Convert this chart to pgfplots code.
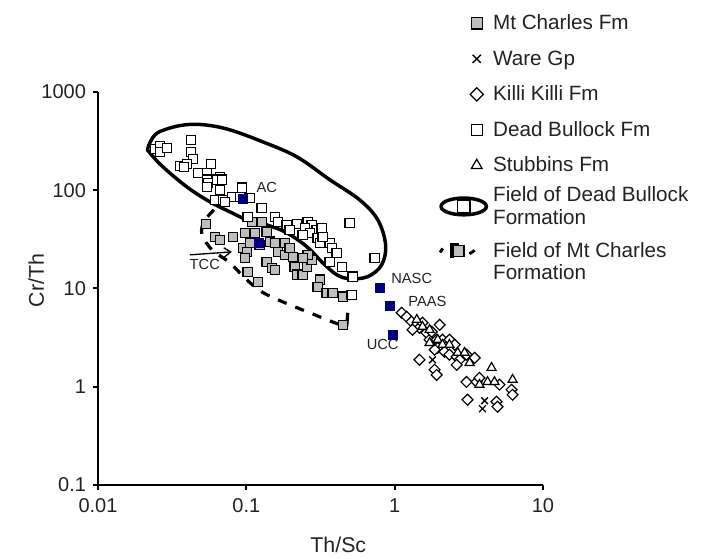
\documentclass[border=0pt]{standalone}
\usepackage{fontspec}
\setmainfont{Liberation Sans}
\usepackage{pgfplots}
\pgfplotsset{compat=1.18}
\usetikzlibrary{arrows.meta}
\definecolor{mcgrey}{HTML}{BEBEBE}
\definecolor{refblue}{HTML}{000080}
\definecolor{txt}{HTML}{222222}
\pgfplotsset{
  legmark/.style={legend image code/.code={%
    \path (0pt,-13.125pt) (37.5pt,13.125pt);
    \draw[mark repeat=2,mark phase=2,##1,every mark/.append style={scale=1.2}] plot coordinates {(19pt,0pt)(28.5pt,0pt)(38pt,0pt)};}},
}
\newcommand{\twoline}[2]{\smash{\raisebox{-6pt}{\begin{tabular}[c]{@{}l@{}}#1\\#2\end{tabular}}}}
\begin{document}
\begin{tikzpicture}
\begin{axis}[
  scale only axis, width=333.75pt, height=294.75pt,
  xmode=log, ymode=log,
  xmin=0.01, xmax=10, ymin=0.1, ymax=1000,
  axis lines*=left,
  axis line style={line width=2.2pt},
  xtick={0.01,0.1,1,10}, xticklabels={0.01,0.1,1,10},
  ytick={0.1,1,10,100,1000}, yticklabels={0.1,1,10,100,1000},
  xminorticks=false, yminorticks=false,
  tick align=outside, major tick length=3.5pt,
  tick style={line width=1.5pt,black},
  tick label style={font=\fontsize{15}{18}\selectfont, text=txt},
  xticklabel style={yshift=-3pt},
  yticklabel style={xshift=-2pt},
  xlabel={Th/Sc}, ylabel={Cr/Th},
  label style={font=\fontsize{16}{19}\selectfont, text=txt},
  xlabel style={at={(axis description cs:0.54,-0.153)}, anchor=center},
  ylabel style={at={(axis description cs:-0.139,0.52)}, anchor=center},
  clip=false,
  legend style={draw=none, fill=none, inner sep=0pt, outer sep=0pt,
    at={(axis description cs:0.7618,1.22)}, anchor=north west,
    font=\fontsize{15.5}{17}\selectfont, text=txt,
    row sep=0pt, cells={anchor=west, inner sep=0pt},
    /tikz/every even column/.append style={column sep=8.25pt}},
  legend cell align=left,
]
% Mt Charles Fm
\addplot[legmark, only marks, mark=square*, mark size=3.5pt,
  mark options={fill=mcgrey, draw=black, line width=0.9pt}] coordinates {
(0.0534,45.5) (0.0614,33.6) (0.0663,31.3) (0.0811,33.6) (0.0977,36.9)
(0.114,36.9) (0.0947,25.9) (0.106,29.2) (0.101,23.6) (0.0977,20.5)
(0.137,37.7) (0.144,29.9) (0.156,29.2) (0.182,29.2) (0.163,23.6)
(0.182,22.0) (0.206,21.0) (0.137,18.7) (0.149,16.2) (0.156,15.5)
(0.102,14.8) (0.120,11.7) (0.212,16.6) (0.219,13.8) (0.240,13.8)
(0.256,16.6) (0.276,19.6) (0.259,22.0) (0.313,12.3) (0.303,10.4)
(0.348,9.04) (0.382,9.04) (0.447,8.24) (0.447,4.27) (0.127,47.7)
(0.109,47.7) (0.240,20.5) (0.123,27.8) (0.196,25.9)
};
\addlegendentry{Mt Charles Fm}
% Ware Gp
\addplot[legmark, only marks, mark=x, mark size=3.6pt,
  mark options={draw=black, line width=1pt}] coordinates {
(1.80,1.88) (4.04,0.720) (3.91,0.597)
};
\addlegendentry{Ware Gp}
% Killi Killi Fm
\addplot[legmark, only marks, mark=square*, mark size=2.9pt,
  mark options={fill=white, draw=black, line width=0.9pt, rotate=45}] coordinates {
(1.115,5.66) (1.205,5.15) (1.30,4.59) (1.41,4.27) (1.47,3.98)
(2.01,4.27) (1.64,3.54) (1.72,3.01) (1.92,3.01) (2.10,3.01)
(2.34,3.01) (2.54,2.68) (1.95,2.49) (2.17,2.27) (2.34,2.12)
(2.62,2.02) (2.74,1.88) (3.05,2.12) (3.46,1.97) (2.62,1.67)
(1.47,1.88) (1.86,1.49) (1.92,1.32) (3.05,1.12) (3.57,1.12)
(3.73,1.23) (5.09,1.05) (6.14,0.932) (6.24,0.829) (3.10,0.738)
(4.86,0.703) (4.94,0.626) (1.32,3.80) (1.54,4.48) (1.78,3.63)
(1.86,2.38)
};
\addlegendentry{Killi Killi Fm}
% Dead Bullock Fm
\addplot[legmark, only marks, mark=square*, mark size=3.5pt,
  mark options={fill=white, draw=black, line width=0.9pt}] coordinates {
(0.0242,264) (0.0262,283) (0.0262,246) (0.0292,270)
(0.0423,326) (0.0423,246) (0.0436,209)
(0.0357,177) (0.0398,186) (0.0380,173) (0.0577,186)
(0.0471,150) (0.0542,150) (0.0663,137) (0.0542,128) (0.0633,128) (0.0551,119) (0.0684,128)
(0.0663,101) (0.0542,108) (0.0614,79.8) (0.0695,79.8) (0.0799,85.7) (0.0904,85.7)
(0.0933,106) (0.106,83.7) (0.127,66.2) (0.102,53.6) (0.0717,76.2)
(0.156,53.6) (0.163,47.7) (0.187,44.5) (0.219,45.5) (0.196,39.5) (0.259,47.7)
(0.276,44.5) (0.248,41.4) (0.298,39.5) (0.268,36.9) (0.303,32.8) (0.240,35.2)
(0.313,29.2) (0.365,29.2) (0.377,25.9) (0.407,23.1) (0.365,18.7) (0.440,16.6)
(0.498,46.6) (0.521,13.2) (0.513,8.63) (0.733,20.5) (0.322,41.4) (0.327,33.6)
};
\addlegendentry{Dead Bullock Fm}
% Stubbins Fm
\addplot[legmark, only marks, mark=triangle*, mark size=3.9pt,
  mark options={fill=white, draw=black, line width=0.9pt}] coordinates {
(1.41,4.81) (1.54,4.08) (1.72,3.80) (1.72,2.80) (1.95,3.01)
(2.10,2.68) (2.34,2.68) (2.66,2.22) (3.20,1.75) (4.50,1.56)
(3.73,1.05) (4.23,1.12) (4.71,1.12) (6.24,1.18) (2.96,2.22)
};
\addlegendentry{Stubbins Fm}
% Field of Dead Bullock Formation
\addplot[black, line width=2.6pt, smooth cycle, tension=0.6,
  legend image code/.code={%
    \path (0pt,-19.5pt) (37.5pt,16.125pt);
    \draw[solid, line width=2.6pt] (18.75pt,0pt) ellipse (17pt and 6.3pt);
    \draw[solid, line width=1pt, fill=white] (14pt,-4.5pt) rectangle (23.5pt,4.5pt);}]
coordinates {
(0.0217,270) (0.0242,366) (0.0292,421) (0.0385,463) (0.0525,463)
(0.0774,412) (0.129,311) (0.219,219) (0.365,128) (0.581,79.8)
(0.769,50) (0.869,27.8) (0.817,17.4) (0.658,13.2) (0.498,12.6)
(0.407,13.8) (0.327,18.3) (0.256,26.6) (0.187,36.9) (0.137,44.5)
(0.101,50) (0.0774,60.3) (0.0568,76.2) (0.0398,108) (0.0274,173)
(0.0224,240)
};
\addlegendentry{\twoline{Field of Dead Bullock}{Formation}}
% Field of Mt Charles Formation
\addplot[black, line width=2.4pt, smooth, tension=0.5, dash pattern=on 7pt off 7pt,
  legend image code/.code={%
    \path (0pt,-13pt) (37.5pt,19.5pt);
    \draw[solid, line width=2.2pt] (1pt,7pt) -- (3pt,10pt);
    \draw[solid, line width=0.9pt, fill=mcgrey] (11pt,4pt) rectangle (19pt,12pt);
    \draw[solid, line width=2.4pt] (10pt,2.5pt) -- (10pt,13pt) -- (15pt,13pt);
    \draw[solid, line width=2.2pt] (23pt,6pt) -- (27pt,8.5pt);}]
coordinates {
(0.0604,63.2) (0.0517,47.7) (0.0502,35.2) (0.0586,24.8) (0.0774,18.3)
(0.0977,12.8) (0.127,9.25) (0.182,7.16) (0.268,5.66) (0.394,4.48)
(0.475,4.08)
};
\addlegendentry{\twoline{Field of Mt Charles}{Formation}}
\addplot[black, line width=2.4pt, forget plot] coordinates {(0.475,4.08) (0.483,5.66)};
% reference compositions
\addplot[only marks, mark=square*, mark size=3.3pt,
  mark options={fill=refblue, draw=refblue}, forget plot] coordinates {
(0.0947,81.8) (0.121,29.2) (0.793,10.2) (0.925,6.67) (0.97,3.38)
};
\node[font=\fontsize{11}{13}\selectfont, text=txt, anchor=west] at (axis cs:0.109,106) {AC};
\node[font=\fontsize{11}{13}\selectfont, text=txt, anchor=west] at (axis cs:0.883,12.6) {NASC};
\node[font=\fontsize{11}{13}\selectfont, text=txt, anchor=west] at (axis cs:1.15,7.32) {PAAS};
\node[font=\fontsize{11}{13}\selectfont, text=txt] at (axis cs:0.83,2.68) {UCC};
\node[font=\fontsize{11}{13}\selectfont, text=txt] at (axis cs:0.0525,17.4) {TCC};
\draw[-{Straight Barb[length=5pt,width=7pt]}, line width=1pt] (axis cs:0.0416,22) -- (axis cs:0.0799,23.6);
\end{axis}
\pgfresetboundingbox
\path (-73.5pt,-55.5pt) rectangle (454.5pt,363.75pt);
\end{tikzpicture}
\end{document}
